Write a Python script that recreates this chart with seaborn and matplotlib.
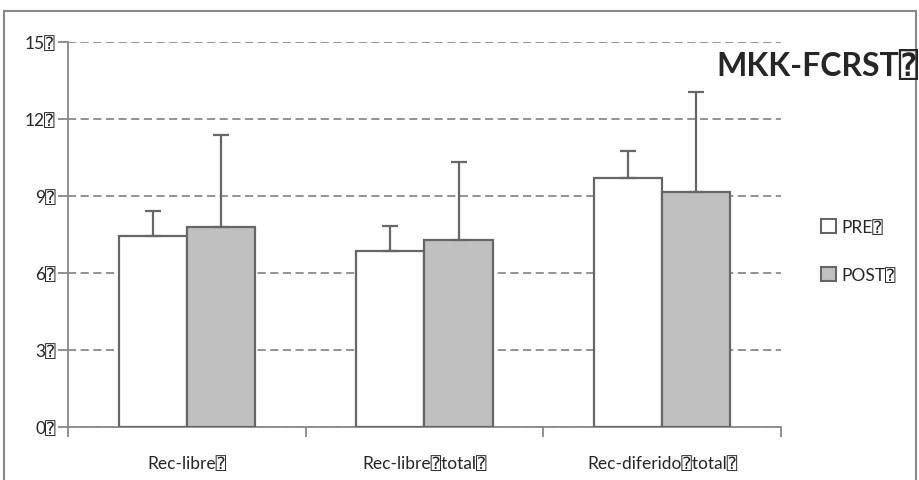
import matplotlib
matplotlib.use("Agg")
import matplotlib.pyplot as plt
import seaborn as sns
import pandas as pd
from matplotlib.patches import Rectangle, Patch

BOX = "\u2370"
categories = ["Rec-libre" + BOX, "Rec-libre" + BOX + "total" + BOX, "Rec-diferido" + BOX + "total" + BOX]
series = ["PRE" + BOX, "POST" + BOX]
pre_mean = [7.45, 6.86, 9.70]
pre_err = [0.97, 0.97, 1.05]
post_mean = [7.80, 7.28, 9.15]
post_err = [3.58, 3.04, 3.90]
yticks = [0, 3, 6, 9, 12, 15]
title = "MKK-FCRST" + BOX

sns.set_theme(style="white")
plt.rcParams['font.family'] = ['Lato', 'DejaVu Sans', 'DejaVu Sans Mono']

df = pd.DataFrame({
    "cat": categories * 2,
    "series": [series[0]] * 3 + [series[1]] * 3,
    "val": pre_mean + post_mean,
})

fig = plt.figure(figsize=(9.2, 4.81), dpi=100)
ax = fig.add_axes([68/920, 1-428/481, (781-68)/920, (428-43)/481])

edge = "#666666"
palette = {series[0]: "#ffffff", series[1]: "#c0c0c0"}
sns.barplot(data=df, x="cat", y="val", hue="series", order=categories, hue_order=series,
            palette=palette, width=0.575, gap=0, edgecolor=edge, linewidth=1.6,
            errorbar=None, legend=False, ax=ax, zorder=3)

# error bars (upper only)
errs = {series[0]: pre_err, series[1]: post_err}
means = {series[0]: pre_mean, series[1]: post_mean}
for container, s in zip(ax.containers, series):
    xs = [p.get_x() + p.get_width()/2 for p in container.patches]
    ax.errorbar(xs, means[s], yerr=[[0]*3, errs[s]], fmt="none", ecolor=edge,
                elinewidth=1.6, capsize=6, capthick=1.6, zorder=4)

ax.set_xlim(-0.5, 2.5)
ax.set_ylim(0, 15)
ax.set_yticks(yticks)
ax.set_yticklabels([f"{v}{BOX}" for v in yticks], fontsize=12.5)
ax.yaxis.grid(True, linestyle=(0, (4.5, 2.5)), color="#8a8a8a", linewidth=1.3)
ax.set_axisbelow(True)
ax.tick_params(axis="y", which="major", length=7, width=1.3, color="#888888", left=True, pad=2)

ax.set_xticks([0, 1, 2])
ax.set_xticklabels(categories, fontsize=12.5)
ax.set_xticks([-0.5, 0.5, 1.5, 2.5], minor=True)
ax.tick_params(axis="x", which="major", length=0, pad=20)
ax.tick_params(axis="x", which="minor", length=7, width=1.3, color="#888888", bottom=True)
ax.set_xlabel("")
ax.set_ylabel("")

for side in ["top", "right"]:
    ax.spines[side].set_visible(False)
for side in ["left", "bottom"]:
    ax.spines[side].set_color("#888888")
    ax.spines[side].set_linewidth(1.3)

# legend
handles = [Patch(facecolor=palette[s], edgecolor=edge, linewidth=1.5) for s in series]
fig.legend(handles, series, loc="center left", bbox_to_anchor=(821/920, 1-252/481),
           frameon=False, fontsize=12.5, labelspacing=1.8, handlelength=0.85, handleheight=0.85,
           handletextpad=0.3, borderpad=0, borderaxespad=0)

fig.text(918/920, 1-66/481, title, ha="right", va="center", fontsize=23, fontweight="bold")

# outer frame
fig.patches.append(Rectangle((4/920, -0.05), (916-4)/920, 1.05 - 12/481,
                             transform=fig.transFigure, fill=False, edgecolor="#888888",
                             linewidth=1.5))

fig.savefig("out.png", dpi=100)
